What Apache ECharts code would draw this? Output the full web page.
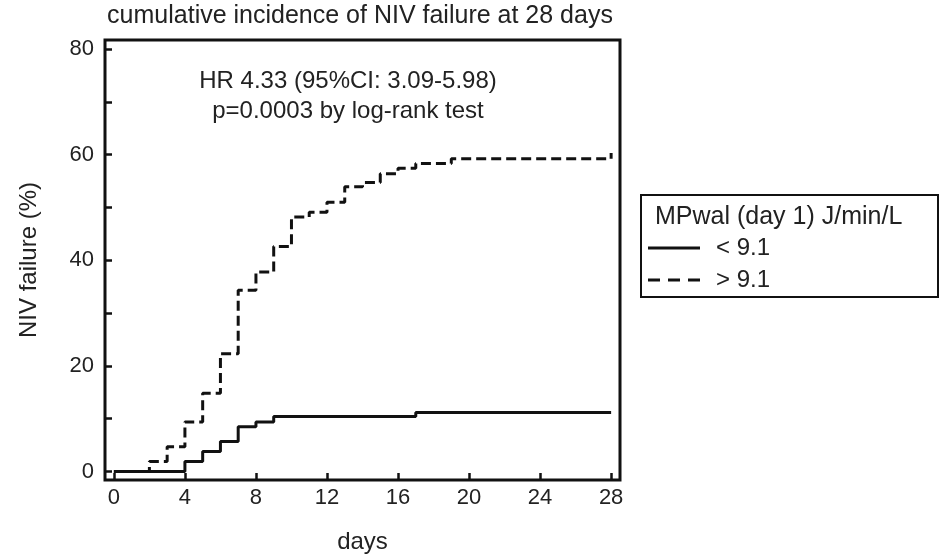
<!DOCTYPE html>
<html>
<head>
<meta charset="utf-8">
<script src="https://cdn.jsdelivr.net/npm/echarts@6/dist/echarts.min.js"></script>
<style>html,body{margin:0;padding:0;background:#fff}#c{width:951px;height:559px}</style>
</head>
<body>
<div id="c"></div>
<script>
// Step points: [day, cumulative incidence %]
var lowGroup = [[0,0],[4,1.9],[5,3.8],[6,5.7],[7,8.5],[8,9.4],[9,10.4],[17,11.2],[28,11.2]];
var highGroup = [[0,0],[2,1.9],[3,4.7],[4,9.4],[5,14.8],[6,22.3],[7,34.3],[8,37.8],[9,42.6],[10,48.2],[11,49.1],[12,51.0],[13,53.9],[14,54.7],[15,56.4],[16,57.4],[17,58.3],[19,59.2],[28,59.2],[28,60.3]];
var xTicks = [0,4,8,12,16,20,24,28];
var yTicks = [0,10,20,30,40,50,60,70,80];
var yLabels = [0,20,40,60,80];
var seriesNames = ['< 9.1', '> 9.1'];
var legendTitle = 'MPwal (day 1) J/min/L';

var FONT = '"Liberation Sans", Arial, sans-serif';
var FS = 24;
var TXT = '#222';
var chart = echarts.init(document.getElementById('c'));
chart.setOption({
  animation: false,
  backgroundColor: '#fff',
  grid: {left: 105, right: 331, top: 40, bottom: 78, show: true, borderColor: '#111', borderWidth: 3, backgroundColor: 'transparent'},
  xAxis: {
    type: 'value', min: -0.5, max: 28.5,
    name: 'days', nameLocation: 'middle', nameGap: 50,
    nameTextStyle: {fontFamily: FONT, fontSize: FS, color: TXT},
    axisLine: {show: false, onZero: false},
    splitLine: {show: false},
    axisTick: {show: true, inside: true, length: 7, lineStyle: {color: '#111', width: 2.5}, customValues: xTicks},
    axisLabel: {fontFamily: FONT, fontSize: FS - 2, color: TXT, margin: 7, customValues: xTicks}
  },
  yAxis: {
    type: 'value', min: -1.6, max: 81.7,
    name: 'NIV failure (%)', nameLocation: 'middle', nameGap: 64,
    nameTextStyle: {fontFamily: FONT, fontSize: FS, color: TXT},
    axisLine: {show: false, onZero: false},
    splitLine: {show: false},
    axisTick: {show: true, inside: true, length: 7, lineStyle: {color: '#111', width: 2.5}, customValues: yTicks},
    axisLabel: {fontFamily: FONT, fontSize: FS - 2, color: TXT, margin: 11, customValues: yLabels}
  },
  graphic: [
    {type: 'text', x: 360, y: 4, style: {text: 'cumulative incidence of NIV failure at 28 days', font: '25px ' + FONT, fill: TXT, align: 'center', verticalAlign: 'top'}},
    {type: 'text', x: 348, y: 66, style: {text: 'HR 4.33 (95%CI: 3.09-5.98)\np=0.0003 by log-rank test', font: FS + 'px ' + FONT, fill: TXT, align: 'center', verticalAlign: 'top', lineHeight: 30}},
    {type: 'rect', shape: {x: 641, y: 195, width: 297, height: 102}, style: {fill: 'none', stroke: '#111', lineWidth: 2}, silent: true},
    {type: 'text', x: 655, y: 217, style: {text: legendTitle, font: '25px ' + FONT, fill: TXT, verticalAlign: 'middle'}},
    {type: 'line', shape: {x1: 648, y1: 248, x2: 700, y2: 248}, style: {stroke: '#111', lineWidth: 3}},
    {type: 'text', x: 716, y: 248, style: {text: seriesNames[0], font: FS + 'px ' + FONT, fill: TXT, verticalAlign: 'middle'}},
    {type: 'line', shape: {x1: 648, y1: 280, x2: 700, y2: 280}, style: {stroke: '#111', lineWidth: 3, lineDash: [12, 8]}},
    {type: 'text', x: 716, y: 280, style: {text: seriesNames[1], font: FS + 'px ' + FONT, fill: TXT, verticalAlign: 'middle'}}
  ],
  series: [
    {name: seriesNames[0], type: 'line', step: 'end', data: lowGroup, showSymbol: false, symbol: 'none',
     lineStyle: {color: '#111', width: 3, type: 'solid'}, itemStyle: {color: '#111'}},
    {name: seriesNames[1], type: 'line', step: 'end', data: highGroup, showSymbol: false, symbol: 'none',
     lineStyle: {color: '#111', width: 3, type: [10,5]}, itemStyle: {color: '#111'}}
  ]
});
</script>
</body>
</html>
